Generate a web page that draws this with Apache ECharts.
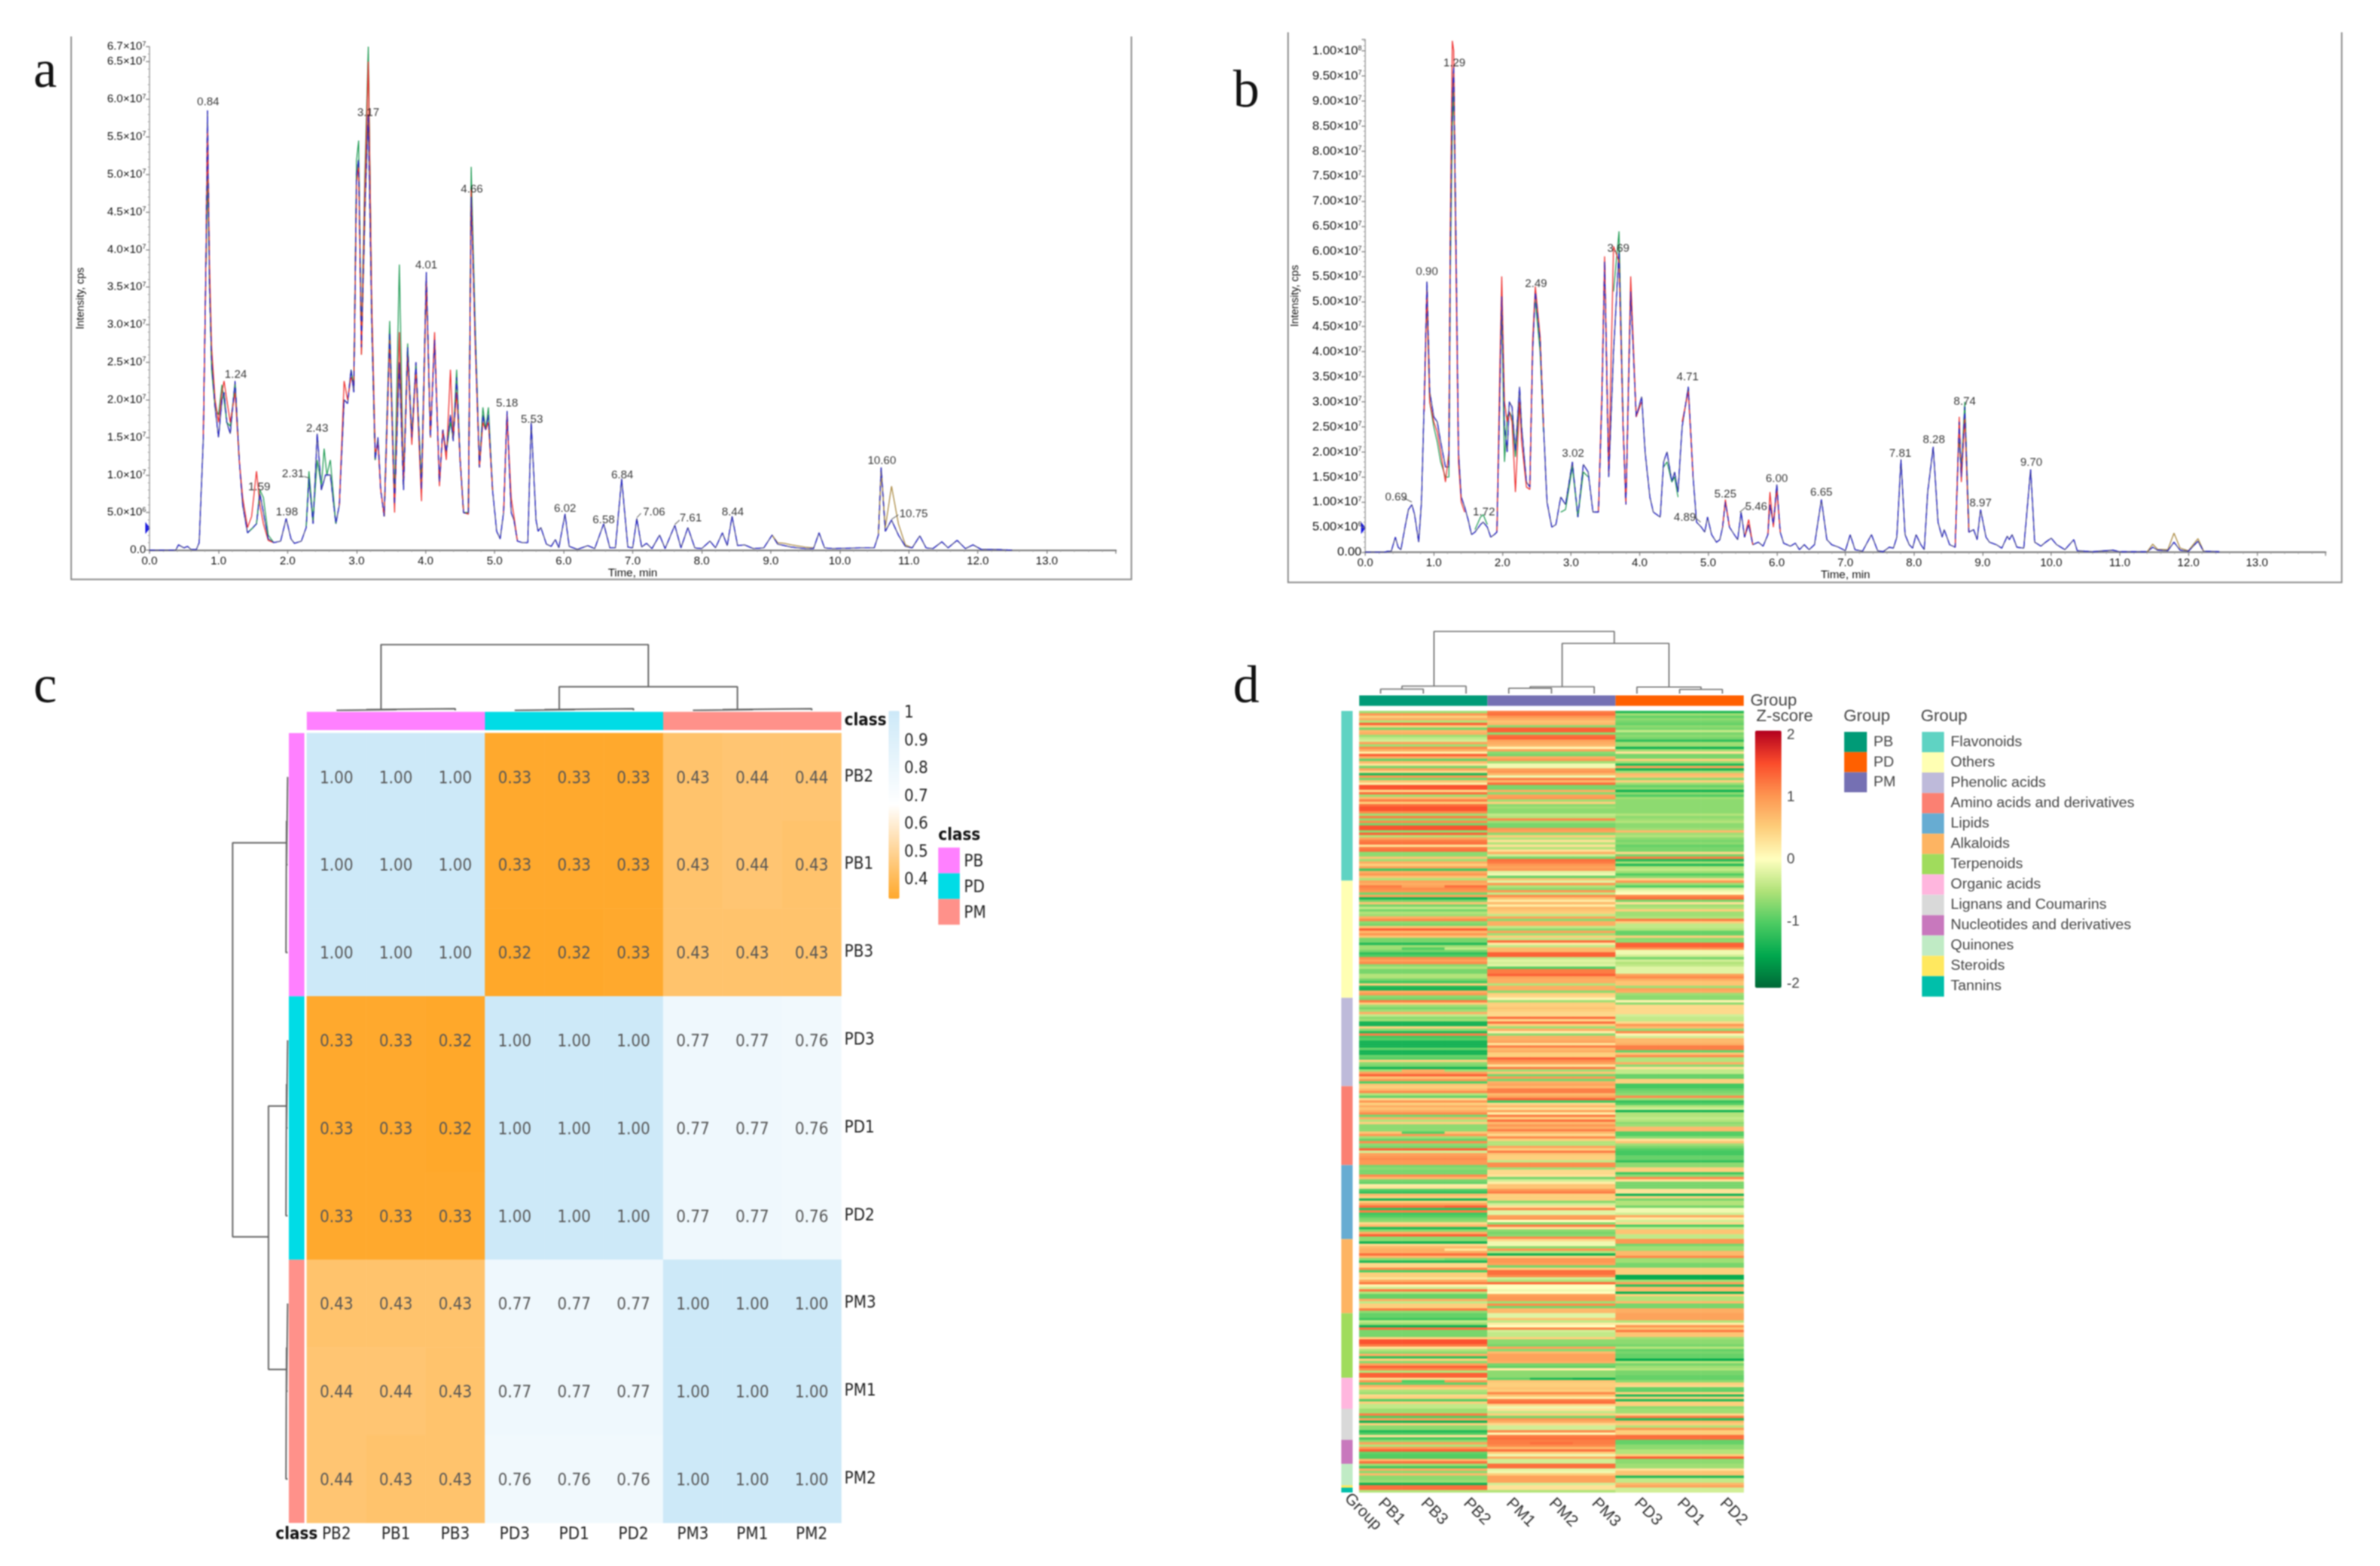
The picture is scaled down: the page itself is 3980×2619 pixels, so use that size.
<!DOCTYPE html>
<html><head><meta charset="utf-8">
<style>html,body{margin:0;padding:0;background:#fff}#c{width:3980px;height:2619px}#c canvas{filter:blur(1.1px)}</style>
<script src="https://cdn.jsdelivr.net/npm/echarts@6/dist/echarts.min.js"></script>
</head><body><div id="c"></div>
<script>
// ---------- Panel a: intensity in units of 1e6 cps ----------
const timeA=[0,0.38,0.42,0.5,0.55,0.6,0.68,0.72,0.78,0.82,0.84,0.87,0.9,0.95,1.0,1.05,1.08,1.12,1.17,1.24,1.3,1.35,1.42,1.5,1.55,1.6,1.65,1.72,1.8,1.9,1.98,2.05,2.1,2.2,2.27,2.31,2.37,2.43,2.49,2.55,2.62,2.7,2.75,2.82,2.87,2.92,2.96,3.0,3.03,3.07,3.12,3.17,3.22,3.27,3.31,3.35,3.4,3.48,3.55,3.62,3.68,3.74,3.8,3.86,3.94,4.01,4.07,4.13,4.2,4.25,4.3,4.36,4.4,4.45,4.5,4.55,4.62,4.66,4.72,4.78,4.83,4.87,4.91,4.97,5.03,5.08,5.13,5.18,5.24,5.28,5.33,5.4,5.48,5.53,5.6,5.63,5.67,5.75,5.82,5.88,5.93,6.02,6.08,6.2,6.35,6.45,6.58,6.67,6.75,6.84,6.93,7.0,7.06,7.13,7.2,7.28,7.39,7.47,7.61,7.7,7.8,7.9,8.0,8.12,8.2,8.3,8.37,8.44,8.52,8.62,8.75,8.9,9.02,9.1,9.3,9.5,9.62,9.7,9.78,9.9,10.3,10.5,10.56,10.6,10.66,10.75,10.85,10.95,11.05,11.16,11.25,11.35,11.48,11.57,11.7,11.82,11.93,12.05,12.2,12.5];
const blueA=[0,0,0.7,0.3,0.5,0.1,0.1,1,15,40,58.5,35,25,19,15,20,21,17,15.5,22.5,12,6,2.3,3,3.5,7.5,5,1.5,1,1.2,4.2,1.5,0.9,1.2,3,9.5,3.5,15.5,8,10,10,3.5,6,20,19.5,24,21,50,52,27,45,58,30,12,15,8,4.5,29,6,25,8,27,15,25,8,37,15,28,9,16,13,18,14.5,23,12,5,4.8,47,28,11,18,16,18,8,2.5,1.5,5,18.5,5,4,1.2,1,1,17,4,2.5,3,0.8,0.5,1.4,0.3,4.8,0.5,0.1,0.6,0.2,3.5,0.3,0.3,9.5,0.4,0.3,4.2,0.4,0.9,0.2,2,0.2,3.3,0.3,3,0.3,0.2,1.2,0.3,2.3,0.6,4.5,0.6,0.7,0.2,0.3,2,0.8,0.4,0.2,0.2,2.3,0.3,0.2,0.3,0.3,2,11,2.5,4,2,0.5,0.3,1.9,0.3,0.2,1.1,0.3,1.3,0.2,0.7,0.1,0.1,0];
const GAP=['-','-'];
const redA=[[0.78,15],[0.82,40],[0.84,56],[0.87,38],[0.9,27],[0.95,20],[1.0,17],[1.05,21],[1.08,22.5],[1.12,20],[1.17,17],[1.24,21],[1.3,12],[1.35,7],[1.42,3],[1.48,4.5],[1.55,10.5],[1.6,6],[1.65,3.5],[1.72,1.3],[1.8,1],GAP,[2.75,6],[2.82,22.5],[2.87,20],[2.92,23],[2.96,22],[3.0,49],[3.03,51],[3.07,26],[3.12,48],[3.17,65],[3.22,33],[3.27,13],[3.31,14],[3.35,8],[3.4,4.5],[3.48,28],[3.55,5],[3.62,29],[3.68,9],[3.74,26],[3.8,14],[3.86,24],[3.94,6.5],[4.01,36],[4.07,15],[4.13,29],[4.2,8.5],[4.25,16],[4.3,12],[4.36,24],[4.4,15],[4.45,21],[4.5,12],[4.55,5],[4.62,4.8],[4.66,48],[4.72,27],[4.78,11],[4.83,17],[4.87,16],[4.91,17],[4.97,8],GAP,[5.13,5],[5.18,18],[5.24,7],[5.28,4.5],[5.33,1.2]];
const greenA=[[0.82,38],[0.84,50],[0.87,36],[0.9,24],[0.95,19],[1.0,18],[1.05,22],[1.08,20],[1.12,17],[1.17,16.5],[1.24,22],[1.3,12],GAP,[1.42,2.3],[1.5,3],[1.55,3.5],[1.6,8],[1.65,7],[1.72,2],[1.8,1],GAP,[2.27,3],[2.31,10.5],[2.37,4],[2.43,12],[2.49,8.5],[2.53,13.5],[2.57,10],[2.62,12],[2.7,3.5],GAP,[2.92,24],[2.96,22],[3.0,52],[3.03,54.5],[3.07,28],[3.12,50],[3.17,67],[3.22,32],[3.27,12],GAP,[3.4,4.5],[3.48,30.5],[3.55,7],[3.62,38],[3.68,9],[3.74,27.5],[3.8,15],[3.86,24.5],[3.94,9],[4.01,36],[4.07,15],GAP,[4.3,13],[4.36,17],[4.4,15],[4.45,24],[4.5,12],[4.55,5],[4.62,5],[4.66,51],[4.72,29.5],[4.78,11],[4.83,19],[4.87,16],[4.91,19],[4.97,8]];
const oliveA=[[3.07,26],[3.12,44],[3.17,66],[3.22,31],[3.27,12],GAP,[9.02,2],[9.1,1],[9.2,0.9],[9.3,0.7],[9.5,0.4],[9.62,0.3],GAP,[10.56,2],[10.6,10.5],[10.66,3],[10.75,8.5],[10.85,3.5],[10.95,0.7],[11.05,0.3]];
const peakLabelsA=[[0.85,59.6,'0.84'],[1.25,23.3,'1.24'],[1.59,8.4,'1.59'],[1.99,5,'1.98'],[2.08,10.1,'2.31'],[2.43,16.2,'2.43'],[3.17,58.2,'3.17'],[4.01,37.9,'4.01'],[4.67,48,'4.66'],[5.18,19.5,'5.18'],[5.54,17.4,'5.53'],[6.02,5.5,'6.02'],[6.58,4,'6.58'],[6.85,10,'6.84'],[7.31,5,'7.06'],[7.84,4.2,'7.61'],[8.45,5,'8.44'],[10.61,11.9,'10.60'],[11.07,4.8,'10.75']];
const leadersA=[[2.24,9.8],[2.31,9.6],GAP,[7.06,4.3],[7.12,4.9],GAP,[7.61,3.4],[7.68,4],GAP,[10.75,4.1],[10.85,4.7]];

// ---------- Panel b: intensity in units of 1e6 cps ----------
const timeB=[0,0.28,0.33,0.38,0.44,0.48,0.52,0.58,0.63,0.68,0.72,0.78,0.82,0.86,0.9,0.94,1.0,1.05,1.1,1.17,1.22,1.24,1.27,1.29,1.32,1.36,1.4,1.45,1.5,1.55,1.6,1.68,1.72,1.78,1.83,1.88,1.92,1.96,1.99,2.03,2.07,2.1,2.14,2.19,2.25,2.28,2.35,2.4,2.44,2.48,2.55,2.6,2.65,2.72,2.78,2.85,2.92,3.02,3.1,3.18,3.25,3.32,3.4,3.45,3.49,3.55,3.62,3.7,3.76,3.8,3.87,3.95,4.03,4.08,4.15,4.2,4.3,4.35,4.4,4.47,4.51,4.56,4.62,4.71,4.78,4.83,4.9,4.95,4.99,5.05,5.12,5.17,5.21,5.25,5.31,5.38,5.43,5.48,5.53,5.59,5.65,5.73,5.8,5.87,5.9,5.95,6.0,6.05,6.1,6.2,6.27,6.33,6.4,6.47,6.55,6.65,6.73,6.8,6.9,7.0,7.07,7.14,7.25,7.38,7.47,7.55,7.64,7.7,7.75,7.81,7.87,7.93,7.98,8.03,8.1,8.15,8.2,8.28,8.35,8.41,8.44,8.52,8.6,8.66,8.69,8.74,8.8,8.87,8.92,8.97,9.05,9.1,9.2,9.28,9.36,9.39,9.43,9.5,9.6,9.7,9.76,9.85,9.92,10,10.08,10.2,10.33,10.38,10.6,10.9,11,11.4,11.48,11.55,11.7,11.79,11.88,12.0,12.14,12.22,12.45];
const blueB=[0,0,0.2,0.2,3,1,0.5,5,8.5,9.5,7.5,2,10,30,54,32,27,26,22,17,17,60,90,97,65,20,11,9,6.5,3.5,4,5.5,6,5,3,3.5,4,30,51,25,20,30,29,20,33,25,14,13,40,52,42,25,10,5,5.5,11,9.5,18,7,17.5,16,8,8,30,58,15,40,60,25,9.5,52,27,31,20,11,8,7,18,20,14,16,12,25,33,15,6,5,4,7,3.5,2,2.5,5,10,5,3.5,2.5,8,3,5.5,1.5,2,1.2,3.5,9.5,5.5,13.5,4,1.8,1.2,1.8,0.5,1.5,0.5,1.5,10.5,2.5,1.5,1,0.3,3.5,0.5,0.2,3.5,0.3,0.1,1,0.8,3,18.5,3.5,1.5,0.8,3.5,1.5,0.5,12,21,6,3,4.5,1.5,1,26,15,29,4,4.5,2.5,8.5,3,2,1.5,0.8,3.2,2.5,3.5,1,0.8,16.5,2,1.2,2,2.8,1.5,0.5,2.5,0.3,0.1,0.4,0.1,0.1,1,0.4,0.3,2,0.4,0.2,2.2,0.2,0.1];
const redB=[[0.86,28],[0.9,52],[0.94,30],[1.0,26],[1.05,24],[1.1,20],[1.17,14],[1.22,20],[1.24,65],[1.27,102],[1.29,100],[1.32,60],[1.36,18],[1.4,10],[1.45,8],GAP,[1.92,4],[1.96,35],[1.99,55],[2.03,30],[2.07,26],[2.1,28],[2.14,26],[2.19,12],[2.25,30],[2.28,22],[2.35,13],[2.4,12.5],[2.44,42],[2.48,53],[2.55,43],[2.6,25],GAP,[3.4,8],[3.45,32],[3.49,59],[3.55,16],[3.62,61],[3.7,58],[3.76,25],[3.8,9.5],[3.87,55],[3.95,27],[4.03,30],GAP,[4.62,26],[4.71,32],[4.78,15],GAP,[5.21,5],[5.25,10.5],[5.31,5],GAP,[5.53,3],[5.59,6.5],[5.65,1.5],GAP,[5.87,3.5],[5.9,12],[5.95,5],[6.0,12.5],[6.05,4],GAP,[8.6,1],[8.66,27],[8.69,14],[8.74,27],[8.8,4]];
const greenB=[[0.9,50],[0.94,30],[1.0,25],[1.05,22],[1.1,18],[1.17,15],[1.22,15],[1.24,55],[1.27,85],[1.29,92],[1.32,62],GAP,[1.6,4.5],[1.68,7],[1.72,7.5],[1.78,5.5],GAP,[1.99,49],[2.03,18],[2.07,27],[2.1,28],[2.14,27],[2.19,19],[2.25,30],[2.28,24],GAP,[2.48,50],[2.55,40],[2.6,24],GAP,[2.85,8],[2.92,8.5],[3.02,17],[3.1,7],[3.18,16],[3.25,15],GAP,[3.62,52],[3.7,64],[3.76,26],GAP,[4.35,17],[4.4,18],[4.47,14],[4.51,15],[4.56,11],GAP,[8.66,22],[8.69,16],[8.74,30],[8.8,5]];
const oliveB=[[11.4,0.1],[11.48,1.6],[11.55,0.6],[11.7,0.5],[11.79,3.8],[11.88,0.8],[12.0,0.3],[12.14,2.7],[12.22,0.3]];
const peakLabelsB=[[0.45,11,'0.69'],[0.9,55.9,'0.90'],[1.3,97.5,'1.29'],[1.73,7.9,'1.72'],[2.49,53.5,'2.49'],[3.03,19.6,'3.02'],[3.69,60.5,'3.69'],[4.7,34.9,'4.71'],[4.66,6.9,'4.89'],[5.25,11.5,'5.25'],[5.7,9,'5.46'],[6.0,14.6,'6.00'],[6.65,11.9,'6.65'],[7.8,19.6,'7.81'],[8.29,22.4,'8.28'],[8.74,30,'8.74'],[8.97,9.7,'8.97'],[9.71,17.8,'9.70']];
const leadersB=[[0.55,10.9],[0.68,10],GAP,[5.46,8],[5.55,9],GAP,[4.8,7],[4.89,6]];

// ---------- Panel c ----------
const corrNames=['PB2','PB1','PB3','PD3','PD1','PD2','PM3','PM1','PM2'];
const corrColNames=['PB2','PB1','PB3','PD3','PD1','PD2','PM3','PM1','PM2'];
const corrPB2=[1,1,1,.33,.33,.33,.43,.44,.44];
const corrPB1=[1,1,1,.33,.33,.33,.43,.44,.43];
const corrPB3=[1,1,1,.32,.32,.33,.43,.43,.43];
const corrPD3=[.33,.33,.32,1,1,1,.77,.77,.76];
const corrPD1=[.33,.33,.32,1,1,1,.77,.77,.76];
const corrPD2=[.33,.33,.33,1,1,1,.77,.77,.76];
const corrPM3=[.43,.43,.43,.77,.77,.77,1,1,1];
const corrPM1=[.44,.44,.43,.77,.77,.77,1,1,1];
const corrPM2=[.44,.43,.43,.76,.76,.76,1,1,1];
const corrRows=[corrPB2,corrPB1,corrPB3,corrPD3,corrPD1,corrPD2,corrPM3,corrPM1,corrPM2];
const classCounts=[['PB',3,'#ff80ff'],['PD',3,'#00dce6'],['PM',3,'#ff918a']];
const dendroCTop=[[0.5,0],[0.5,0.012],[1.5,0.012],[1.5,0],GAP,[1,0.012],[1,0.024],[2.5,0.024],[2.5,0],GAP,[1.25,0.024],[1.25,1],[5.75,1],[5.75,0.36],GAP,[3.5,0],[3.5,0.012],[4.5,0.012],[4.5,0],GAP,[4,0.012],[4,0.024],[5.5,0.024],[5.5,0],GAP,[6.5,0],[6.5,0.012],[7.5,0.012],[7.5,0],GAP,[7,0.012],[7,0.024],[8.5,0.024],[8.5,0],GAP,[4.25,0.024],[4.25,0.36],[7.25,0.36],[7.25,0.024]];
const dendroCLeft=[[0,0.5],[0.02,0.5],[0.02,1.5],[0,1.5],GAP,[0.02,1],[0.03,1],[0.03,2.5],[0,2.5],GAP,[0.03,1.25],[1,1.25],[1,5.74],[0.348,5.74],GAP,[0,3.5],[0.02,3.5],[0.02,4.5],[0,4.5],GAP,[0.02,4],[0.03,4],[0.03,5.5],[0,5.5],GAP,[0,6.5],[0.02,6.5],[0.02,7.5],[0,7.5],GAP,[0.02,7],[0.03,7],[0.03,8.5],[0,8.5],GAP,[0.03,4.25],[0.348,4.25],[0.348,7.25],[0.03,7.25]];
const corrTicks=['1','0.9','0.8','0.7','0.6','0.5','0.4'];

// ---------- Panel d: z-score in tenths, one row of stripes ----------
const heatCols=['PB1','PB3','PB2','PM1','PM2','PM3','PD3','PD1','PD2'];
const zPB=[-6,10,5,8,-5,14,5,-8,7,8,
-6,-4,-3,9,-6,11,8,2,14,8,
-9,7,3,-8,9,4,-13,10,-8,6,
2,15,15,4,13,-6,7,12,5,13,
15,15,11,-6,12,-7,11,-8,15,15,
-7,14,-5,9,12,13,3,12,13,-7,
-7,6,-6,8,5,9,-11,8,10,6,
-5,9,8,5,11,10,-8,9,-14,-8,
6,-8,-4,-8,-5,
-6,8,11,-7,-8,6,14,7,10,6,
-8,-8,-13,-6,-9,-8,-12,-10,11,9,
11,-7,-5,-8,-8,-5,-5,-8,-11,5,
-13,-14,8,10,-7,-8,12,5,-6,-8,
-6,8,-4,-7,-6,-14,-14,5,-7,-13,
12,-11,-10,-14,-14,-14,-9,-14,-14,-9,
-10,5,-7,-8,-14,-6,9,14,6,10,
-10,6,5,7,11,-5,-9,4,10,5,
8,6,8,11,-8,
8,-5,5,-7,-7,-7,6,10,-6,-9,
11,-7,-8,14,-3,9,10,11,10,10,
-8,-7,-8,-8,11,7,-8,-9,2,3,
-10,-12,7,5,-14,5,9,13,-12,12,
-11,-10,-8,-7,4,7,-13,-7,8,14,
-7,-7,-14,4,7,8,8,13,7,-7,
-13,4,4,11,-10,5,5,3,8,12,
1,-3,12,-5,-9,-9,8,-4,5,5,
12,-7,-9,-9,-11,
-4,-6,-14,13,-8,-8,-8,5,15,15,
12,3,-5,-7,8,-12,5,-7,9,14,
11,-5,14,14,4,10,-9,8,5,-5,
-6,4,5,-10,5,-4,-4,-6,-6,12,
-10,9,-14,5,-7,-7,-13,-10,3,-11,
-7,9,-5,10,14,-9,-10,-10,7,13,
-6,-11,8,-7,7,-7,-7,-6,-14,13,
13,-5];
const zPM=[12,13,10,8,6,7,-7,14,14,-7,
13,14,9,8,7,1,9,-7,-8,8,
10,-6,-1,-1,9,10,7,-1,12,7,
13,-8,-8,8,-7,9,10,-6,5,-7,
-6,-7,-7,-4,-5,11,-6,-8,-8,10,
9,-7,5,-5,3,-5,3,-5,3,8,
-3,-8,13,12,10,9,10,-2,-1,-9,
6,-2,10,-5,-7,10,-4,11,6,2,
7,2,7,6,5,
-4,9,-7,8,8,-4,-7,9,-6,5,
-4,13,2,-4,7,7,14,14,-4,-2,
-3,-2,-10,12,12,14,9,8,8,-5,
8,8,-7,5,4,1,-6,5,5,6,
5,4,4,13,4,13,5,-6,8,2,
-7,8,8,9,3,12,7,8,5,5,
14,11,9,3,12,-6,6,-8,10,-8,
8,9,7,12,12,7,9,14,-11,4,
7,3,9,2,12,
5,13,7,10,8,12,7,4,11,5,
-5,-5,9,5,12,6,5,5,-4,11,
11,-6,4,4,3,-8,-3,2,6,6,
10,12,5,5,5,-7,-3,3,11,-2,
-2,9,10,0,-7,12,3,-7,-8,-7,
11,4,-1,-1,-7,10,-5,-14,5,10,
10,9,-8,5,13,13,11,-3,-5,13,
0,0,-1,0,9,10,10,-6,11,-8,
7,7,-2,-2,6,
-4,2,0,11,-3,-4,-4,5,-7,-7,
-8,9,-7,7,9,9,9,8,-8,-9,
2,-7,-7,-7,-13,6,5,5,6,5,
11,6,2,12,13,4,-1,3,-4,5,
-8,10,8,4,-3,-3,11,1,12,13,
12,12,11,7,13,5,-1,8,-3,-3,
13,13,-2,-1,5,9,9,9,-3,3,
3,-5];
const zPD=[-13,-6,-9,-7,-8,-9,-7,-8,-4,-8,
-7,-8,-12,-6,-6,-14,-6,3,-8,-8,
5,-6,-13,9,-14,-6,7,6,-7,5,
-6,-9,-7,-14,-7,-10,-6,-7,-7,-7,
-7,-7,-7,-5,-7,-6,-5,-7,-7,-6,
7,-6,-5,-7,-8,-7,-9,-8,-8,4,
-8,12,-13,-6,-13,-5,-4,-6,-10,-7,
4,10,-6,-10,-3,-1,0,11,13,-8,
3,-6,-5,5,-6,
-6,-5,12,5,-4,-4,-5,-9,-9,5,
-7,-7,14,14,10,-1,-1,-3,-8,-3,
-5,-4,-2,-2,-2,9,11,8,6,6,
-6,9,8,-6,-7,-7,1,-7,4,4,
4,4,-3,-4,-4,4,10,7,-7,11,
1,-3,7,7,8,12,12,-9,6,11,
-5,-5,8,-7,3,-4,-4,-9,-9,5,
5,-11,-11,-9,-8,-7,11,-6,-12,-10,
-5,-3,-14,-5,-5,
-4,-5,-7,-6,7,7,-10,-10,-7,3,
6,-6,-8,-10,-11,-11,-9,-9,-12,-7,
-7,5,5,-11,-7,11,3,-8,-8,-8,
3,3,-14,5,-8,-5,-5,-8,-1,-1,
-3,8,2,-3,4,-10,-4,6,6,-4,
-4,10,10,-8,-6,-6,7,7,11,-6,
-6,-8,-8,5,5,5,-15,-15,-6,9,
-12,7,7,-14,5,-5,-5,7,-8,-8,
8,8,9,9,9,
-5,2,10,6,12,6,6,-6,-7,-7,
-8,-5,-9,-8,-9,-9,-15,-5,-8,-6,
-5,-8,-8,-9,-9,-7,5,4,-9,-9,
5,-13,5,-13,5,5,-7,-6,-6,4,
12,-13,7,5,-5,10,5,5,13,13,
-9,-9,-7,-7,-5,-5,5,14,-7,-7,
-6,-6,3,6,6,-13,-4,-4,7,9,
-3,-3];
// [row, column, z in tenths] where one sample differs from its group's stripe
const cellOverrides=[[99,0,-6],[99,1,-10],[99,2,-4],[73,0,12],[73,1,9],[73,2,13],[207,2,14],[225,0,8],[225,2,3],[279,3,-9],[279,5,-14],[306,4,13],[280,1,-10],[150,1,8],[176,1,-10],[229,2,-8]];
const zRamp=['#006837','#00a84e','#4ccb62','#b0e278','#ffffbf','#fdcd7a','#fd9450','#fb4b2b','#b2001f'];
const zTicks=[2,1,0,-1,-2];
const groupCounts=[['PB',3,'#009b77'],['PM',3,'#7570b3'],['PD',3,'#ff6000']];
const groupLegend=[['PB','#009b77'],['PD','#ff6000'],['PM','#7570b3']];
const categoryNames=['Flavonoids','Others','Phenolic acids','Amino acids and derivatives','Lipids','Alkaloids','Terpenoids','Organic acids','Lignans and Coumarins','Nucleotides and derivatives','Quinones','Steroids','Tannins'];
const categoryRows=[71,49,37,33,31,31,27,13,13,10,9,1,2];
const categoryColors=['#5fd3c3','#ffffb3','#bebada','#fb8072','#67acd2','#fdb462','#a0dc5c','#ffb6de','#d9d9d9','#c878bd','#c0ebc5','#ffe85f','#00bfaa'];
const dendroDTop=[[0.5,0],[0.5,0.075],[1.5,0.075],[1.5,0],GAP,[1,0.075],[1,0.125],[2.5,0.125],[2.5,0],GAP,[3.5,0],[3.5,0.09],[4.5,0.09],[4.5,0],GAP,[4,0.09],[4,0.115],[5.5,0.115],[5.5,0],GAP,[7.5,0],[7.5,0.07],[8.5,0.07],[8.5,0],GAP,[6.5,0],[6.5,0.11],[8,0.11],[8,0.07],GAP,[1.75,0.125],[1.75,1.04],[5.97,1.04],[5.97,0.84],GAP,[4.75,0.115],[4.75,0.84],[7.25,0.84],[7.25,0.11]];

// ---------- Build ----------
const SANS='"Liberation Sans",Arial,sans-serif';
const COND='"DejaVu Sans Condensed","DejaVu Sans",sans-serif';
const SERIF='"Liberation Serif",serif';
const xAxis=[],yAxis=[],grid=[],series=[],graphic=[];
const hidden=(extra)=>Object.assign({type:'value',show:false,min:0,max:1},extra||{});
function addGrid(l,t,w,h,x,y){grid.push({left:l,top:t,width:w,height:h,containLabel:false});
  const i=grid.length-1; x.gridIndex=i;y.gridIndex=i;xAxis.push(x);yAxis.push(y);return i;}
function fmt(v,dec){ if(Math.abs(v)<1e-9) return dec===1?'{m|0.0}':'{m|0.00}';
  let m,e; if(v<10){m=v;e=6}else if(v<100){m=v/10;e=7}else{m=v/100;e=8}
  return '{m|'+m.toFixed(dec)+'×10}{s|'+e+'}';}
function tracePanel(l,t,w,h,maxY,dec,fs,nameGap,onlyFive,times,blue,red,green,olive,labels,leaders){
  const g=addGrid(l,t,w,h,
   {type:'value',min:0,max:14,interval:1,name:'Time, min',nameLocation:'middle',nameGap:29,
    nameTextStyle:{fontFamily:SANS,fontSize:19,color:'#111'},
    axisLine:{show:true,onZero:false,lineStyle:{color:'#8a8a8a',width:3}},
    axisTick:{show:true,length:6,lineStyle:{color:'#777',width:1.5}},
    minorTick:{show:true,splitNumber:5,length:3,lineStyle:{color:'#999'}},
    splitLine:{show:false},
    axisLabel:{fontFamily:SANS,fontSize:19,color:'#111',margin:9,formatter:v=>v>=14?'':v.toFixed(1)}},
   {type:'value',min:0,max:maxY,interval:5,name:'Intensity, cps',nameLocation:'middle',nameGap:nameGap,
    nameTextStyle:{fontFamily:SANS,fontSize:18,color:'#111'},
    axisLine:{show:true,lineStyle:{color:'#8a8a8a',width:1.5}},
    axisTick:{show:true,length:6,lineStyle:{color:'#777',width:1.5}},
    minorTick:{show:true,splitNumber:5,length:3,lineStyle:{color:'#999'}},
    splitLine:{show:false},
    axisLabel:{margin:6,showMaxLabel:true,formatter:v=>{ if(onlyFive&&Math.abs(v/5-Math.round(v/5))>1e-6) return ''; return fmt(v,dec);},
      rich:{m:{fontFamily:SANS,fontSize:fs,color:'#111'},s:{fontFamily:SANS,fontSize:11,color:'#111',padding:[0,0,9,0]}}}});
  const ln=(data,color,width,type)=>series.push({type:'line',xAxisIndex:g,yAxisIndex:g,data,showSymbol:false,symbol:'none',silent:true,
    lineStyle:{color,width:width||1.6,type:type||'solid'},connectNulls:false,animation:false,z:3});
  const all=times.map((t,i)=>[t,blue[i]]);
  ln(all,'#3a3a86',1.6);
  ln(olive,'#a8863c');ln(green,'#1e9a52');ln(red,'#ee2a2a');
  ln(all,'#2626c8',1.6,[9,7]);
  ln(leaders,'#555',1.2);
  series.push({type:'scatter',xAxisIndex:g,yAxisIndex:g,symbolSize:0,silent:true,data:labels,z:6,
    label:{show:true,position:'inside',formatter:p=>p.value[2],fontFamily:SANS,fontSize:19,color:'#000'}});
}
tracePanel(250,78,1616,842,67,1,19,106,false,timeA,blueA,redA,greenA,oliveA,peakLabelsA,leadersA);
tracePanel(2283,66,1606,857.5,102.27,2,21,108,true,timeB,blueB,redB,greenB,oliveB,peakLabelsB,leadersB);

// panel c
const gc=addGrid(513,1226,894,1321,
 {type:'category',data:corrColNames,axisLine:{show:false},axisTick:{show:false},
  axisLabel:{fontFamily:COND,fontSize:28,color:'#222',margin:6}},
 {type:'category',data:corrNames,inverse:true,position:'right',axisLine:{show:false},axisTick:{show:false},
  axisLabel:{fontFamily:COND,fontSize:28,color:'#222',margin:5,padding:[6,0,0,0]}});
const corrData=[];corrRows.forEach((r,ri)=>r.forEach((v,ci)=>corrData.push([ci,ri,v])));
const idxC=series.length;
series.push({type:'heatmap',xAxisIndex:gc,yAxisIndex:gc,data:corrData,silent:true,
  label:{show:true,offset:[0,3],fontFamily:COND,fontSize:28,color:'#565656',formatter:p=>p.value[2].toFixed(2)}});
const gct=addGrid(513,1190.5,894,30.5,hidden({max:9}),
 {type:'category',data:['class'],position:'right',axisLine:{show:false},axisTick:{show:false},
  axisLabel:{fontFamily:COND,fontWeight:'bold',fontSize:28,color:'#111',margin:5,padding:[6,0,0,0]}});
classCounts.forEach(c=>series.push({type:'bar',xAxisIndex:gct,yAxisIndex:gct,stack:'ct',barWidth:'100%',silent:true,data:[c[1]],itemStyle:{color:c[2]}}));
const gcl=addGrid(483,1226,26,1321,
 {type:'category',data:['class'],axisLine:{show:false},axisTick:{show:false},
  axisLabel:{fontFamily:COND,fontWeight:'bold',fontSize:28,color:'#111',margin:6}},hidden({max:9,inverse:true}));
classCounts.forEach(c=>series.push({type:'bar',xAxisIndex:gcl,yAxisIndex:gcl,stack:'cl',barWidth:'100%',silent:true,data:[c[1]],itemStyle:{color:c[2]}}));
const gcd=addGrid(513,1078,894,110,hidden({max:9}),hidden());
series.push({type:'line',xAxisIndex:gcd,yAxisIndex:gcd,data:dendroCTop,showSymbol:false,symbol:'none',silent:true,lineStyle:{color:'#666',width:2.5}});
const gcdl=addGrid(389,1226,92,1321,hidden({inverse:true}),hidden({max:9,inverse:true}));
series.push({type:'line',xAxisIndex:gcdl,yAxisIndex:gcdl,data:dendroCLeft,showSymbol:false,symbol:'none',silent:true,lineStyle:{color:'#666',width:2.5}});

// panel d
const nRows=Math.min(zPB.length,zPM.length,zPD.length);
const rowNames=Array.from({length:nRows},(_,i)=>String(i));
const gd=addGrid(2273,1189,643,1307,
 {type:'category',data:heatCols,axisLine:{show:false},axisTick:{show:false},
  axisLabel:{fontFamily:SANS,fontSize:27,color:'#333',rotate:-45,margin:14,interval:0}},
 {type:'category',data:rowNames,inverse:true,show:false});
const overrideMap={};cellOverrides.forEach(o=>{overrideMap[o[0]+'_'+o[1]]=o[2];});
const heatData=[];
for(let r=0;r<nRows;r++){ for(let c=0;c<9;c++){ const arr=c<3?zPB:c<6?zPM:zPD; const k=r+'_'+c; heatData.push([c,r,(k in overrideMap?overrideMap[k]:arr[r])/10]); } }
const idxD=series.length;
series.push({type:'heatmap',xAxisIndex:gd,yAxisIndex:gd,data:heatData,silent:true,progressive:0});
const gdt=addGrid(2273,1163,643,17.6,hidden({max:9}),
 {type:'category',data:['Group'],position:'right',axisLine:{show:false},axisTick:{show:false},
  axisLabel:{fontFamily:SANS,fontSize:28,color:'#444',margin:11}});
groupCounts.forEach(c=>series.push({type:'bar',xAxisIndex:gdt,yAxisIndex:gdt,stack:'dt',barWidth:'100%',silent:true,data:[c[1]],itemStyle:{color:c[2]}}));
const totalCat=categoryRows.reduce((a,b)=>a+b,0);
const gdl=addGrid(2243,1189,19,1307,
 {type:'category',data:['Group'],axisLine:{show:false},axisTick:{show:false},
  axisLabel:{fontFamily:SANS,fontSize:27,color:'#333',rotate:-45,margin:6}},hidden({max:totalCat,inverse:true}));
categoryRows.forEach((n,i)=>series.push({type:'bar',xAxisIndex:gdl,yAxisIndex:gdl,stack:'dl',barWidth:'100%',silent:true,data:[n],itemStyle:{color:categoryColors[i]}}));
const gdd=addGrid(2273,1055,643,105,hidden({max:9}),hidden({max:1.05}));
series.push({type:'line',xAxisIndex:gdd,yAxisIndex:gdd,data:dendroDTop,showSymbol:false,symbol:'none',silent:true,lineStyle:{color:'#777',width:2.2}});

// Frames, panel letters, triangles, legends
const frame=(l,r,t,b)=>graphic.push({type:'polyline',shape:{points:[[l,t],[l,b],[r,b],[r,t]]},style:{stroke:'#8c8c8c',lineWidth:2.5,fill:null},silent:true});
frame(119,1892,61,969);frame(2154,3916,54,974);
const tri=(x,y)=>graphic.push({type:'polygon',shape:{points:[[x,y-10],[x+8,y],[x,y+10]]},style:{fill:'#1a1ae0'},silent:true});
tri(243,883);tri(2276,883);
const txt=(x,y,s,font,size,extra)=>graphic.push({type:'text',x,y,silent:true,style:Object.assign({text:s,fontFamily:font,fontSize:size,fill:'#222',verticalAlign:'middle',align:'left'},extra||{})});
const box=(x,y,w,h,c)=>graphic.push({type:'rect',shape:{x,y,width:w,height:h},style:{fill:c},silent:true});
[['a',56,78],['b',2062,111],['c',56,1107],['d',2062,1107]].forEach(p=>graphic.push({type:'text',x:p[1],y:p[2],silent:true,style:{text:p[0],fontFamily:SERIF,fontSize:88,fill:'#111',verticalAlign:'top',align:'left'}}));

// c legend
corrTicks.forEach((s,i)=>txt(1512,1193+i*46.5,s,COND,28));
txt(1569,1398,'class',COND,28,{fontWeight:'bold',fill:'#111'});
const cy=[1417.5,1460.5,1503.5];
classCounts.forEach((c,i)=>{box(1569,cy[i],36,43,c[2]);txt(1612,cy[i]+24.5,c[0],COND,28);});

// d legends
const GREY={fill:'#444'};
txt(2937,1198,'Z-score',SANS,28,GREY);txt(3083,1198,'Group',SANS,28,GREY);txt(3212,1198,'Group',SANS,28,GREY);
zTicks.forEach((z,i)=>{const y=1229+i*104;
  txt(2988,y,String(z),SANS,24,GREY);
  box(2935,y-1,10,2.5,'#fff');box(2969,y-1,10,2.5,'#fff');});
groupLegend.forEach((g,i)=>{const y=1224+i*33.7;box(3084,y,38,33.7,g[1]);txt(3133,y+17,g[0],SANS,24.7,GREY);});
categoryNames.forEach((n,i)=>{const y=1224+i*34.05;box(3214,y,37,34.05,categoryColors[i]);txt(3262,y+17,n,SANS,24.7,GREY);});

const chart=echarts.init(document.getElementById('c'),null,{renderer:'canvas',devicePixelRatio:1,width:3980,height:2619});
chart.setOption({animation:false,backgroundColor:'#fff',grid,xAxis,yAxis,series,graphic,
 visualMap:[
  {type:'continuous',seriesIndex:idxC,dimension:2,min:0.326,max:1,left:1486,top:1189,itemWidth:18,itemHeight:314,padding:0,calculable:false,hoverLink:false,
   inRange:{color:['#ffa82a','#ffffff','#cde9f8']}},
  {type:'continuous',seriesIndex:idxD,dimension:2,min:-2.07,max:2.07,left:2935,top:1222,itemWidth:44,itemHeight:430,padding:0,calculable:false,hoverLink:false,
   inRange:{color:zRamp}}
 ]});
</script></body></html>
